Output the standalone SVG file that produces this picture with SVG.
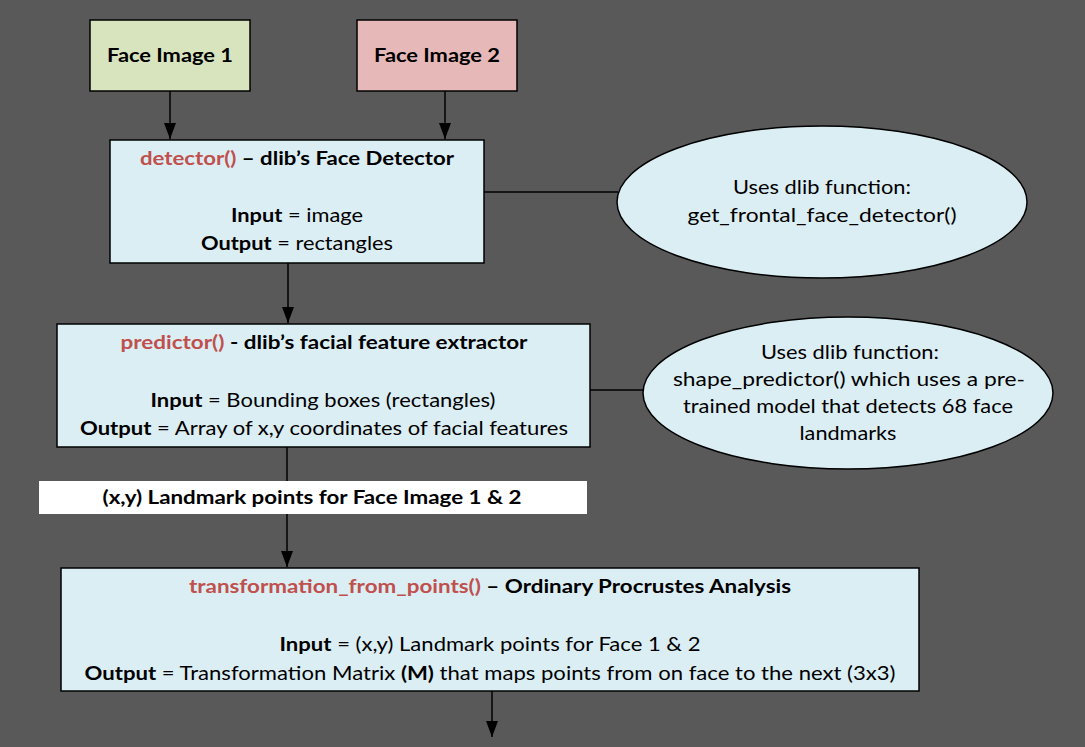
<svg xmlns="http://www.w3.org/2000/svg" width="1085" height="747" viewBox="0 0 1085 747">
<defs>
<style>
.bg{fill:#595959}
.box{fill:#dbeef4;stroke:#000;stroke-width:1.5}
.t{font-family:Lato,"Liberation Sans",sans-serif;font-size:19px;fill:#000;text-anchor:middle}
.b{font-weight:bold}
.r{fill:#c0504d;font-weight:bold}
.ln{stroke:#000;stroke-width:1.5;fill:none}
</style>
<marker id="ah" markerUnits="userSpaceOnUse" markerWidth="12" markerHeight="16" refX="6" refY="16" orient="auto-start-reverse" viewBox="0 0 12 16">
<path d="M0,0 L12,0 L6,16 Z" fill="#000" transform="rotate(-90 6 8) translate(-2 2)"/>
</marker>
<marker id="ah2" markerUnits="userSpaceOnUse" markerWidth="16" markerHeight="12" refX="16" refY="6" orient="auto" viewBox="0 0 16 12">
<path d="M0,0 L16,6 L0,12 Z" fill="#000"/>
</marker>
</defs>
<rect class="bg" x="0" y="0" width="1085" height="747"/>

<g id="connectors">
<line class="ln" x1="170" y1="91" x2="170" y2="139" marker-end="url(#ah2)"/>
<line class="ln" x1="445" y1="91" x2="445" y2="139" marker-end="url(#ah2)"/>
<line class="ln" x1="288" y1="263" x2="288" y2="323" marker-end="url(#ah2)"/>
<line class="ln" x1="484" y1="192" x2="618" y2="192"/>
<line class="ln" x1="590" y1="390" x2="644" y2="390"/>
<line class="ln" x1="287" y1="447" x2="287" y2="567" marker-end="url(#ah2)"/>
<line class="ln" x1="492" y1="691" x2="492" y2="737" marker-end="url(#ah2)"/>
<g id="label-landmarks">
<rect x="39" y="481" width="548" height="33" fill="#fff"/>
<text class="t b" x="312" y="504" textLength="419" lengthAdjust="spacingAndGlyphs">(x,y) Landmark points for Face Image 1 &amp; 2</text>
</g>
</g>

<g id="face1">
<rect x="90" y="20" width="160" height="71" fill="#d7e4bd" stroke="#000" stroke-width="1.5"/>
<text class="t b" x="170" y="62" textLength="126" lengthAdjust="spacingAndGlyphs">Face Image 1</text>
</g>

<g id="face2">
<rect x="357" y="20" width="160" height="71" fill="#e6b9b8" stroke="#000" stroke-width="1.5"/>
<text class="t b" x="437" y="62" textLength="126" lengthAdjust="spacingAndGlyphs">Face Image 2</text>
</g>

<g id="detector">
<rect class="box" x="110" y="140" width="374" height="123"/>
<text class="t b" x="297" y="165" textLength="314" lengthAdjust="spacingAndGlyphs"><tspan class="r">detector()</tspan> – dlib’s Face Detector</text>
<text class="t" x="297" y="222" textLength="132" lengthAdjust="spacingAndGlyphs"><tspan class="b">Input</tspan> = image</text>
<text class="t" x="297" y="250" textLength="192" lengthAdjust="spacingAndGlyphs"><tspan class="b">Output</tspan> = rectangles</text>
</g>

<g id="ellipse1">
<ellipse class="box" cx="822" cy="202" rx="205" ry="76"/>
<text class="t" x="822" y="194" textLength="178" lengthAdjust="spacingAndGlyphs">Uses dlib function:</text>
<text class="t" x="822" y="222" textLength="269" lengthAdjust="spacingAndGlyphs">get_frontal_face_detector()</text>
</g>

<g id="predictor">
<rect class="box" x="57" y="324" width="533" height="123"/>
<text class="t b" x="324" y="349" textLength="407" lengthAdjust="spacingAndGlyphs"><tspan class="r">predictor()</tspan> - dlib’s facial feature extractor</text>
<text class="t" x="323" y="407" textLength="345" lengthAdjust="spacingAndGlyphs"><tspan class="b">Input</tspan> = Bounding boxes (rectangles)</text>
<text class="t" x="324" y="435" textLength="488" lengthAdjust="spacingAndGlyphs"><tspan class="b">Output</tspan> = Array of x,y coordinates of facial features</text>
</g>

<g id="ellipse2">
<ellipse class="box" cx="848" cy="393" rx="205" ry="76"/>
<text class="t" x="850" y="359" textLength="178" lengthAdjust="spacingAndGlyphs">Uses dlib function:</text>
<text class="t" x="849" y="386" textLength="352" lengthAdjust="spacingAndGlyphs">shape_predictor() which uses a pre-</text>
<text class="t" x="848" y="413" textLength="330" lengthAdjust="spacingAndGlyphs">trained model that detects 68 face</text>
<text class="t" x="848" y="440" textLength="97" lengthAdjust="spacingAndGlyphs">landmarks</text>
</g>

<g id="transformation">
<rect class="box" x="61" y="568" width="858" height="123"/>
<text class="t b" x="490" y="593" textLength="602" lengthAdjust="spacingAndGlyphs"><tspan class="r">transformation_from_points()</tspan> – Ordinary Procrustes Analysis</text>
<text class="t" x="490" y="651" textLength="421" lengthAdjust="spacingAndGlyphs"><tspan class="b">Input</tspan> = (x,y) Landmark points for Face 1 &amp; 2</text>
<text class="t" x="490" y="680" textLength="811" lengthAdjust="spacingAndGlyphs"><tspan class="b">Output</tspan> = Transformation Matrix <tspan class="b">(M)</tspan> that maps points from on face to the next (3x3)</text>
</g>
</svg>
